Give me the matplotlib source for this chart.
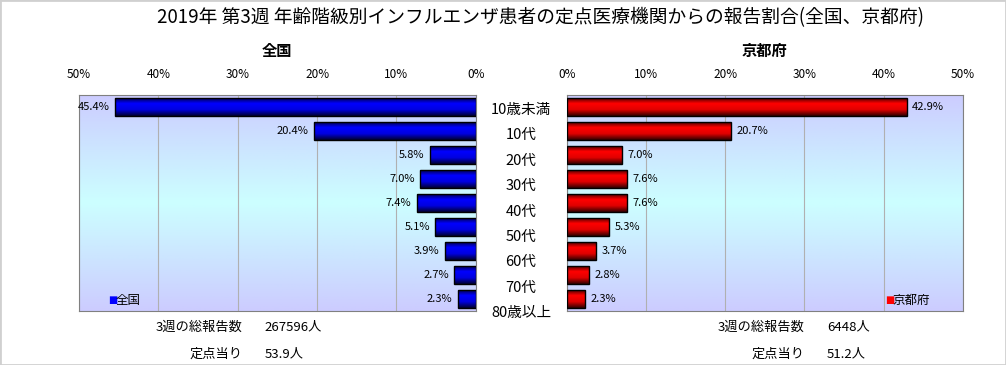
import matplotlib
matplotlib.use('Agg')
import matplotlib.pyplot as plt
import numpy as np
from matplotlib.colors import LinearSegmentedColormap
from matplotlib.patches import Rectangle
from matplotlib.transforms import blended_transform_factory

plt.rcParams['font.family'] = ['Noto Sans CJK JP', 'DejaVu Sans']

title = '2019年 第3週 年齢階級別インフルエンザ患者の定点医療機関からの報告割合(全国、京都府)'
cats = ['10歳未満', '10代', '20代', '30代', '40代', '50代', '60代', '70代', '80歳以上']
zenkoku = [45.4, 20.4, 5.8, 7.0, 7.4, 5.1, 3.9, 2.7, 2.3]
kyoto = [42.9, 20.7, 7.0, 7.6, 7.6, 5.3, 3.7, 2.8, 2.3]
ticks = [0, 10, 20, 30, 40, 50]
zen_total, zen_per = '267596', '53.9'
kyo_total, kyo_per = '6448', '51.2'

bg = LinearSegmentedColormap.from_list('bg', ['#ccccff', '#ccffff', '#ccccff'])
blue = LinearSegmentedColormap.from_list('b', ['#000030', '#0000ff', '#0000e0', '#000030'])
red = LinearSegmentedColormap.from_list('r', ['#300000', '#ff0000', '#e00000', '#300000'])


def panel(ax, values, cmap, name, color, left):
    ax.imshow(np.linspace(0, 1, 200).reshape(-1, 1), cmap=bg, aspect='auto',
              extent=[0, 1, 0, 1], transform=ax.transAxes, zorder=0)
    y = np.arange(len(values))
    bars = ax.barh(y, values, height=0.75, facecolor='none', edgecolor='black',
                   linewidth=1, zorder=3)
    grad = np.linspace(0, 1, 100).reshape(-1, 1)
    for b in bars:
        x0, y0, w, h = b.get_x(), b.get_y(), b.get_width(), b.get_height()
        im = ax.imshow(grad, cmap=cmap, aspect='auto', extent=[x0, x0 + w, y0 + h, y0], zorder=2)
        im.set_clip_path(b)
    for yi, v in zip(y, values):
        if left:
            ax.annotate(f'{v:.1f}%', (v, yi), xytext=(-4, 0), textcoords='offset points',
                        ha='right', va='center', fontsize=8)
        else:
            ax.annotate(f'{v:.1f}%', (v, yi), xytext=(4, 0), textcoords='offset points',
                        ha='left', va='center', fontsize=8)
    ax.set_xlim(0, 50)
    if left:
        ax.invert_xaxis()
    ax.set_ylim(len(values) - 0.5, -0.5)
    ax.xaxis.tick_top()
    ax.set_xticks(ticks)
    ax.set_xticklabels([f'{t}%' for t in ticks], fontsize=8.5)
    ax.tick_params(axis='x', length=0, pad=10)
    ax.grid(axis='x', color='#b0b0b0', linewidth=0.8, zorder=1)
    ax.set_axisbelow(True)
    for s in ax.spines.values():
        s.set_color('#808080')
    ax.set_title(name, fontsize=11, fontweight='bold', pad=28)
    ax.set_yticks([])
    if left:
        tr = blended_transform_factory(ax.transAxes, ax.transData)
        for yi, c in zip(y, cats):
            ax.text(1.114, 0.125 + 1.058 * yi, c, transform=tr, ha='center', va='center',
                    fontsize=10.5, clip_on=False)
    lx = 0.073 if left else 0.803
    ax.text(lx, 0.05, '■', color=color, fontsize=7, transform=ax.transAxes, va='center',
            family='DejaVu Sans')
    ax.text(lx + 0.02, 0.05, name, fontsize=9, transform=ax.transAxes, va='center')


fig = plt.figure(figsize=(10.06, 3.65), dpi=100)
fig.patches.append(Rectangle((0, 0), 1, 1, transform=fig.transFigure, fill=False,
                             edgecolor='#d0d0d0', linewidth=2))
ax1 = fig.add_axes([0.0785, 0.148, 0.3945, 0.592])
ax2 = fig.add_axes([0.5636, 0.148, 0.3934, 0.592])
panel(ax1, zenkoku, blue, '全国', '#0000ff', True)
panel(ax2, kyoto, red, '京都府', '#ff0000', False)

fig.text(0.537, 0.953, title, ha='center', va='center', fontsize=13.5)
fig.text(0.2415, 0.104, '3週の総報告数', fontsize=9.5, va='center', ha='right')
fig.text(0.263, 0.104, zen_total + '人', fontsize=9.5, va='center')
fig.text(0.2415, 0.030, '定点当り', fontsize=9.5, va='center', ha='right')
fig.text(0.263, 0.030, zen_per + '人', fontsize=9.5, va='center')
fig.text(0.80, 0.104, '3週の総報告数', fontsize=9.5, va='center', ha='right')
fig.text(0.822, 0.104, kyo_total + '人', fontsize=9.5, va='center')
fig.text(0.80, 0.030, '定点当り', fontsize=9.5, va='center', ha='right')
fig.text(0.822, 0.030, kyo_per + '人', fontsize=9.5, va='center')

fig.savefig('out.png', dpi=100)
